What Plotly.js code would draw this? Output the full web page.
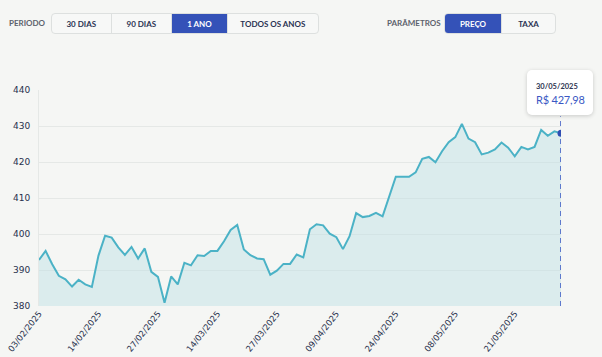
<!DOCTYPE html>
<html>
<head>
<meta charset="utf-8">
<script src="https://cdn.plot.ly/plotly-3.0.1.min.js"></script>
<style>
  html,body{margin:0;padding:0;background:#f5f6f4;width:602px;height:357px;overflow:hidden;font-family:Lato,"Open Sans",sans-serif;}
  #chart{position:absolute;left:0;top:0;width:602px;height:357px;}
  .lbl{position:absolute;font-size:8px;font-weight:700;color:#5d626c;letter-spacing:0;top:18px;}
  .grp{position:absolute;top:13px;height:21px;border:1px solid #dde0df;border-radius:4px;display:flex;overflow:hidden;background:#f7f8f7;box-sizing:border-box;}
  .btn{height:100%;display:flex;align-items:center;justify-content:center;font-size:8px;font-weight:700;color:#2a3252;border-right:1px solid #dde0df;box-sizing:border-box;}
  .btn:last-child{border-right:none;}
  .sel{background:#3452b8;color:#fff;}
  #tip{position:absolute;left:527px;top:70px;width:66px;height:45px;background:#fff;border-radius:5px;box-shadow:0 1px 4px rgba(0,0,0,0.18);box-sizing:border-box;padding:12px 0 0 9px;}
  #tipd{font-size:7.5px;font-weight:700;color:#2d3450;}
  #tipv{font-size:11px;color:#3a58c4;margin-top:2px;white-space:nowrap;letter-spacing:-0.2px;}
</style>
</head>
<body>
<div id="chart"></div>
<div class="lbl" style="left:9px;">PERIODO</div>
<div class="grp" style="left:51px;width:268px;">
  <div class="btn" style="width:60px;">30 DIAS</div>
  <div class="btn" style="width:61px;">90 DIAS</div>
  <div class="btn sel" style="width:56px;">1 ANO</div>
  <div class="btn" style="width:91px;">TODOS OS ANOS</div>
</div>
<div class="lbl" style="left:387px;">PARÂMETROS</div>
<div class="grp" style="left:444px;width:112px;">
  <div class="btn sel" style="width:58px;">PREÇO</div>
  <div class="btn" style="width:54px;">TAXA</div>
</div>
<div id="tip"><div id="tipd"></div><div id="tipv"></div></div>
<script>
const dates = [
 "03/02/2025","04/02/2025","05/02/2025","06/02/2025","07/02/2025","10/02/2025","11/02/2025","12/02/2025","13/02/2025","14/02/2025",
 "17/02/2025","18/02/2025","19/02/2025","20/02/2025","21/02/2025","24/02/2025","25/02/2025","26/02/2025","27/02/2025","28/02/2025",
 "05/03/2025","06/03/2025","07/03/2025","10/03/2025","11/03/2025","12/03/2025","13/03/2025","14/03/2025","17/03/2025","18/03/2025",
 "19/03/2025","20/03/2025","21/03/2025","24/03/2025","25/03/2025","26/03/2025","27/03/2025","28/03/2025","31/03/2025","01/04/2025",
 "02/04/2025","03/04/2025","04/04/2025","07/04/2025","08/04/2025","09/04/2025","10/04/2025","11/04/2025","14/04/2025","15/04/2025",
 "16/04/2025","17/04/2025","22/04/2025","23/04/2025","24/04/2025","25/04/2025","28/04/2025","29/04/2025","30/04/2025","02/05/2025",
 "05/05/2025","06/05/2025","07/05/2025","08/05/2025","09/05/2025","12/05/2025","13/05/2025","14/05/2025","15/05/2025","16/05/2025",
 "19/05/2025","20/05/2025","21/05/2025","22/05/2025","23/05/2025","26/05/2025","27/05/2025","28/05/2025","29/05/2025","30/05/2025"
];
const prices = [
 392.8,395.3,391.6,388.4,387.4,385.4,387.3,386.0,385.3,394.0,
 399.5,399.0,396.3,394.2,396.4,393.2,396.0,389.5,388.1,380.9,
 388.2,386.0,392.0,391.3,394.1,393.9,395.3,395.3,398.0,401.1,
 402.5,395.7,394.1,393.2,393.0,388.7,389.8,391.7,391.7,394.3,
 393.5,401.3,402.7,402.4,400.1,399.1,395.8,399.4,405.8,404.7,
 405.0,405.9,404.9,410.3,415.9,415.9,415.9,417.1,420.9,421.4,
 419.9,423.0,425.5,426.9,430.6,426.5,425.5,422.1,422.6,423.5,
 425.4,424.0,421.6,424.2,423.5,424.2,428.9,427.3,428.5,427.98
];
const tickDates = ["03/02/2025","14/02/2025","27/02/2025","14/03/2025","27/03/2025","09/04/2025","24/04/2025","08/05/2025","21/05/2025"];
const yTicks = [380,390,400,410,420,430,440];

const lastIdx = prices.length - 1;
const lastDate = dates[lastIdx];
const lastVal = prices[lastIdx];

document.getElementById('tipd').textContent = lastDate;
document.getElementById('tipv').textContent = 'R$ ' + lastVal.toFixed(2).replace('.', ',');

const traces = [
  {
    x: dates, y: prices, type: 'scatter', mode: 'lines',
    line: {color: '#4bb2c6', width: 2},
    fill: 'tozeroy', fillcolor: 'rgba(188,224,228,0.45)',
    hoverinfo: 'skip'
  },
  {
    x: [lastDate, lastDate], y: [380, 432.7], type: 'scatter', mode: 'lines',
    line: {color: '#3553c2', width: 1.5, dash: '5px,4px'}, hoverinfo: 'skip'
  },
  {
    x: [lastDate], y: [lastVal], type: 'scatter', mode: 'markers',
    marker: {color: '#2f4db3', size: 7}, hoverinfo: 'skip'
  }
];

const layout = {
  width: 602, height: 357,
  paper_bgcolor: 'rgba(0,0,0,0)', plot_bgcolor: 'rgba(0,0,0,0)',
  margin: {l: 39, r: 41, t: 90, b: 51},
  showlegend: false,
  xaxis: {
    type: 'category', range: [0, lastIdx],
    tickmode: 'array', tickvals: tickDates, ticktext: tickDates,
    tickangle: -52, ticks: '', showgrid: false, zeroline: false,
    showline: false,
    tickfont: {family: 'DejaVu Sans', size: 8.5, color: '#27304c'}
  },
  yaxis: {
    range: [380, 440], tickmode: 'array', tickvals: yTicks,
    ticks: '', showgrid: true, gridcolor: '#e5e8e6', gridwidth: 1,
    zeroline: false, showline: true, linecolor: '#e5e8e6', linewidth: 1,
    tickfont: {family: 'DejaVu Sans', size: 9, color: '#27304c'},
    ticklabelstandoff: 6
  }
};

Plotly.newPlot('chart', traces, layout, {staticPlot: true, displayModeBar: false});
</script>
</body>
</html>
